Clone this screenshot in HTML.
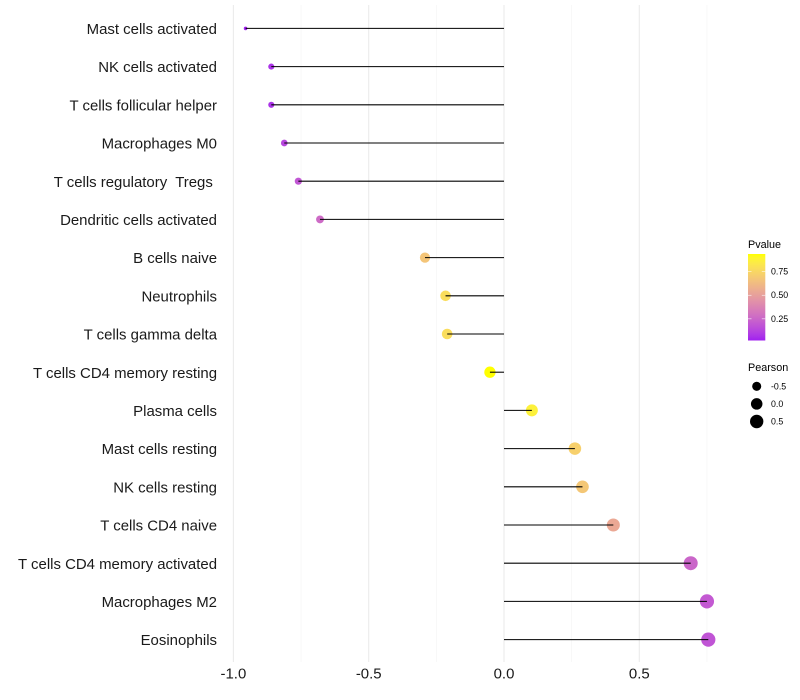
<!DOCTYPE html>
<html>
<head>
<meta charset="utf-8">
<title>Immune cell correlation lollipop chart</title>
<style>
html,body{margin:0;padding:0;background:#fff;}
svg{display:block;font-family:"Liberation Sans",sans-serif;}
</style>
</head>
<body>
<svg id="chart" xmlns="http://www.w3.org/2000/svg" width="800" height="700" viewBox="0 0 800 700"></svg>
<script>
const categories = ["Mast cells activated","NK cells activated","T cells follicular helper","Macrophages M0","T cells regulatory  Tregs ","Dendritic cells activated","B cells naive","Neutrophils","T cells gamma delta","T cells CD4 memory resting","Plasma cells","Mast cells resting","NK cells resting","T cells CD4 naive","T cells CD4 memory activated","Macrophages M2","Eosinophils"];
const pearson = [-0.955,-0.86,-0.86,-0.812,-0.76,-0.68,-0.292,-0.216,-0.21,-0.052,0.103,0.262,0.29,0.404,0.69,0.75,0.755];
const pvalue = [0.021,0.07,0.07,0.13,0.19,0.27,0.67,0.78,0.78,0.936,0.87,0.72,0.68,0.54,0.25,0.2,0.18];
const majorTicks = [-1,-0.5,0,0.5];
const majorLabels = ["-1.0","-0.5","0.0","0.5"];
const minorTicks = [-0.75,-0.25,0.25,0.75];
const colorTicks = [0.75,0.5,0.25];
const colorTickLabels = ["0.75","0.50","0.25"];
const sizeTicks = [-0.5,0,0.5];
const sizeTickLabels = ["-0.5","0.0","0.5"];

const svg = document.getElementById('chart');
const NS = 'http://www.w3.org/2000/svg';
function make(tag, attrs, text){
  const el = document.createElementNS(NS, tag);
  for (const k in attrs) el.setAttribute(k, attrs[k]);
  if (text !== undefined) el.textContent = text;
  return el;
}
const xScale = v => 504 + v * 270.6;
const yScale = i => 28.4 + i * 38.2;

const pMin = Math.min(...pvalue), pMax = Math.max(...pvalue);
const rMin = Math.min(...pearson), rMax = Math.max(...pearson);
const radius = v => 1.8 + 5.3 * Math.sqrt((v - rMin) / (rMax - rMin));

function srgbToLab(c){
  const l = c.map(u => { u/=255; return u>0.04045?Math.pow((u+0.055)/1.055,2.4):u/12.92; });
  const X=(0.4124*l[0]+0.3576*l[1]+0.1805*l[2])/0.95047, Y=0.2126*l[0]+0.7152*l[1]+0.0722*l[2], Z=(0.0193*l[0]+0.1192*l[1]+0.9505*l[2])/1.08883;
  const f=t=>t>0.008856?Math.cbrt(t):7.787*t+16/116;
  return [116*f(Y)-16,500*(f(X)-f(Y)),200*(f(Y)-f(Z))];
}
function labToCss(L){
  const fy=(L[0]+16)/116, fx=fy+L[1]/500, fz=fy-L[2]/200;
  const g=t=>t*t*t>0.008856?t*t*t:(t-16/116)/7.787;
  const X=g(fx)*0.95047, Y=g(fy), Z=g(fz)*1.08883;
  const rgb=[3.2406*X-1.5372*Y-0.4986*Z,-0.9689*X+1.8758*Y+0.0415*Z,0.0557*X-0.2040*Y+1.0570*Z];
  const out=rgb.map(u=>{u=Math.max(0,Math.min(1,u));return Math.round(255*(u>0.0031308?1.055*Math.pow(u,1/2.4)-0.055:12.92*u));});
  return 'rgb('+out.join(',')+')';
}
const labLow = srgbToLab([160,32,240]), labHigh = srgbToLab([255,255,0]);
function colorAt(t){
  return labToCss(labLow.map((v,i)=>v+(labHigh[i]-v)*t));
}
const colorOf = p => colorAt((p - pMin) / (pMax - pMin));

const panelTop = 5, panelBottom = 662;

// grid
minorTicks.forEach(v => {
  const line = make('line',{x1:xScale(v),x2:xScale(v),y1:panelTop,y2:panelBottom,stroke:'#f3f3f3','stroke-width':0.55});
  
  
  svg.appendChild(line);
});
majorTicks.forEach(v => {
  const line = make('line',{x1:xScale(v),x2:xScale(v),y1:panelTop,y2:panelBottom,stroke:'#ebebeb','stroke-width':1.07});
  
  
  svg.appendChild(line);
});

// points, then stems on top
categories.forEach((c,i) => {
  const pt = make('circle',{cx:xScale(pearson[i]),cy:yScale(i),r:radius(pearson[i]),fill:colorOf(pvalue[i])});
  
  
  svg.appendChild(pt);
});
categories.forEach((c,i) => {
  const seg = make('line',{x1:xScale(0),x2:xScale(pearson[i]),y1:yScale(i),y2:yScale(i),stroke:'#000','stroke-width':1.07});
  
  
  svg.appendChild(seg);
  const lab = make('text',{x:217,y:yScale(i)+5.6,'text-anchor':'end','font-size':14.95,fill:'#1a1a1a',style:'white-space:pre'},c);
  
  
  svg.appendChild(lab);
});

// x axis labels
majorTicks.forEach((v,i) => {
  const t = make('text',{x:xScale(v),y:678.5,'text-anchor':'middle','font-size':14.95,fill:'#1a1a1a'},majorLabels[i]);
  
  
  svg.appendChild(t);
});

// colour legend
const defs = make('defs',{});
const grad = make('linearGradient',{id:'pvalue-gradient',x1:0,y1:1,x2:0,y2:0});
for (let k=0;k<=20;k++){
  grad.appendChild(make('stop',{offset:k/20,'stop-color':colorAt(k/20)}));
}
defs.appendChild(grad);
svg.appendChild(defs);

const barTop = 254, barBottom = 340.5, barLeft = 748, barWidth = 17.3;
const colorY = p => barBottom - (p - pMin) / (pMax - pMin) * (barBottom - barTop);

const pTitle = make('text',{x:748,y:248,'font-size':10.8,fill:'#000'},'Pvalue');


svg.appendChild(pTitle);

const bar = make('rect',{x:barLeft,y:barTop,width:barWidth,height:barBottom-barTop,fill:'url(#pvalue-gradient)'});


svg.appendChild(bar);

colorTicks.forEach((p,i) => {
  const y = colorY(p);
  const a = make('line',{x1:barLeft,x2:barLeft+3.5,y1:y,y2:y,stroke:'#fff','stroke-width':0.55});
  
  
  svg.appendChild(a);
  const b = make('line',{x1:barLeft+barWidth-3.5,x2:barLeft+barWidth,y1:y,y2:y,stroke:'#fff','stroke-width':0.55});
  
  
  svg.appendChild(b);
  const t = make('text',{x:771,y:y+3,'font-size':8.8,fill:'#000'},colorTickLabels[i]);
  
  
  svg.appendChild(t);
});

// size legend
const sTitle = make('text',{x:748,y:371,'font-size':10.8,fill:'#000'},'Pearson');


svg.appendChild(sTitle);

sizeTicks.forEach((v,i) => {
  const y = 386.3 + i * 17.6;
  const c = make('circle',{cx:756.7,cy:y,r:radius(v),fill:'#000'});
  
  
  svg.appendChild(c);
  const t = make('text',{x:771,y:y+3,'font-size':8.8,fill:'#000'},sizeTickLabels[i]);
  
  
  svg.appendChild(t);
});
</script>
</body>
</html>
